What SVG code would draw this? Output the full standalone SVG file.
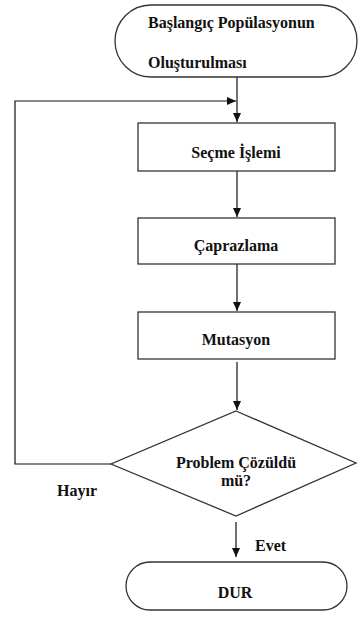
<svg xmlns="http://www.w3.org/2000/svg" width="358" height="623" viewBox="0 0 358 623">
<style>
.s{fill:#fff;stroke:#333;stroke-width:1.3}
.t{font-family:"Liberation Serif","Times New Roman","DejaVu Serif",serif;font-weight:bold;font-size:16px;fill:#111}
.c{text-anchor:middle}
.l{fill:none;stroke:#111;stroke-width:1.2}
</style>
<defs>
<marker id="a" markerWidth="10" markerHeight="10" refX="9" refY="5" orient="auto" markerUnits="userSpaceOnUse">
<path d="M0,1 L9,5 L0,9 Z" fill="#111"/>
</marker>
</defs>
<g id="connectors">
<path class="l" d="M237,77 V122" marker-end="url(#a)"/>
<path class="l" d="M111,464 H15 V101 H236" marker-end="url(#a)"/>
<path class="l" d="M237,171 V217" marker-end="url(#a)"/>
<path class="l" d="M237,264 V311" marker-end="url(#a)"/>
<path class="l" d="M237,362 V410" marker-end="url(#a)"/>
<path class="l" d="M236,522 V557" marker-end="url(#a)"/>
</g>
<g id="start">
<rect class="s" x="115" y="5" width="242" height="72" rx="36" ry="36"/>
<text class="t" x="148" y="28">Başlangıç Popülasyonun</text>
<text class="t" x="148" y="68">Oluşturulması</text>
</g>
<g id="secme">
<rect class="s" x="138" y="123" width="197" height="48"/>
<text class="t c" x="236" y="158">Seçme İşlemi</text>
</g>
<g id="caprazlama">
<rect class="s" x="138" y="218" width="197" height="46"/>
<text class="t c" x="236" y="251">Çaprazlama</text>
</g>
<g id="mutasyon">
<rect class="s" x="138" y="312" width="197" height="47"/>
<text class="t c" x="236" y="345">Mutasyon</text>
</g>
<g id="karar">
<polygon class="s" points="236,411 356,463 236,516 111,464"/>
<text class="t c" x="236" y="468">Problem Çözüldü</text>
<text class="t c" x="236" y="486">mü?</text>
</g>
<g id="labels">
<text class="t" x="57" y="496">Hayır</text>
<text class="t" x="255" y="551">Evet</text>
</g>
<g id="dur">
<rect class="s" x="126" y="562" width="221" height="48" rx="24" ry="24"/>
<text class="t c" x="235" y="598">DUR</text>
</g>
</svg>
